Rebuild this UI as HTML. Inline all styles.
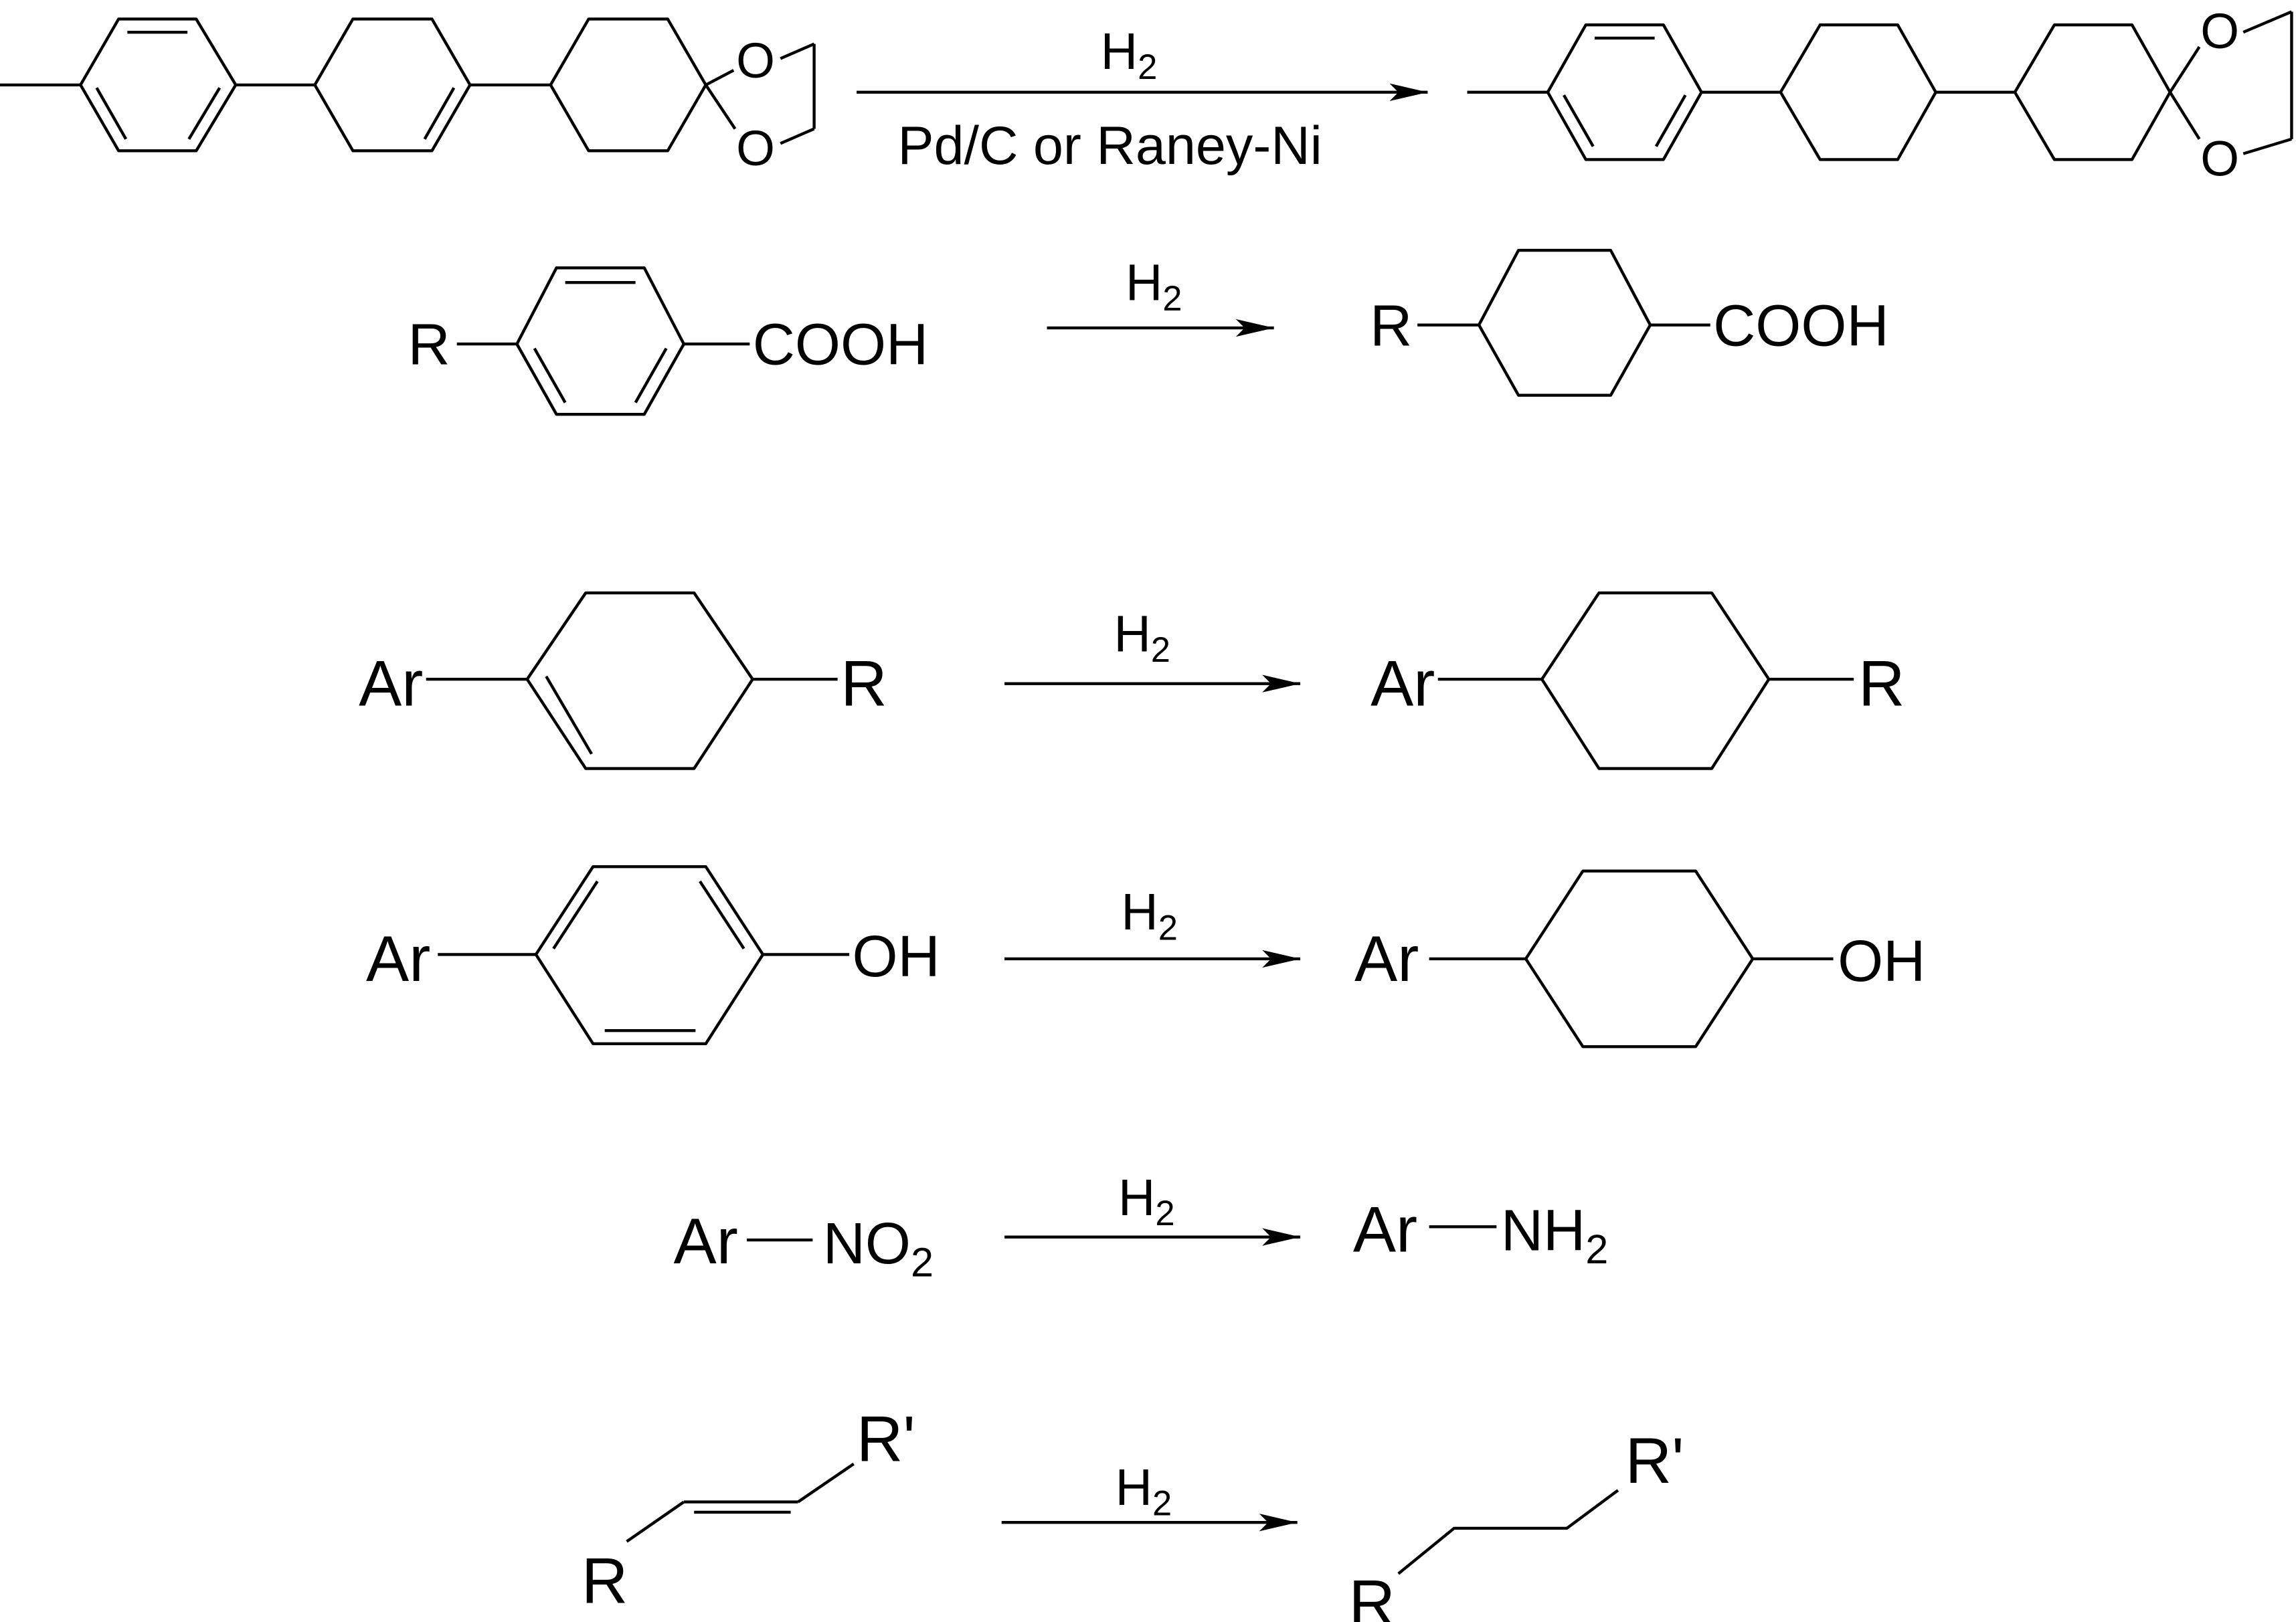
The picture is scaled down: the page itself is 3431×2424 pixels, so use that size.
<!DOCTYPE html>
<html><head><meta charset="utf-8"><style>
html,body{margin:0;padding:0;background:#fff;}
svg{display:block;}
text{font-family:"Liberation Sans",Arial,sans-serif;fill:#000;}
</style></head><body>
<svg width="3431" height="2424" viewBox="0 0 1568 1108" preserveAspectRatio="none" xmlns="http://www.w3.org/2000/svg">
<defs><marker id="ah" viewBox="0 0 26 12" refX="26" refY="6" markerWidth="26" markerHeight="12" markerUnits="userSpaceOnUse" orient="auto"><path d="M0,0 L26,6 L0,12 L6,6 Z" fill="#000"/></marker></defs>
<g stroke="#000" stroke-width="2" fill="none" stroke-linejoin="round">
<!-- Row 1 left -->
<line x1="0" y1="58" x2="55" y2="58"/>
<polygon points="55,58 81,13 134,13 161,58 134,103 81,103"/>
<line x1="87" y1="22" x2="128" y2="22"/><line x1="150" y1="60" x2="129" y2="95"/><line x1="66" y1="60" x2="86" y2="95"/>
<line x1="161" y1="58" x2="215" y2="58"/>
<polygon points="215,58 241,13 295,13 321,58 295,103 241,103"/>
<line x1="310" y1="60" x2="290" y2="95"/>
<line x1="321" y1="58" x2="376" y2="58"/>
<polygon points="376,58 402,13 456,13 482,58 456,103 402,103"/>
<line x1="482" y1="58" x2="501" y2="48"/><line x1="482" y1="58" x2="502" y2="88"/>
<line x1="533" y1="40" x2="556" y2="30"/><line x1="556" y1="30" x2="556" y2="88"/><line x1="556" y1="88" x2="533" y2="98"/>
<line x1="585" y1="63" x2="975" y2="63" marker-end="url(#ah)"/>
<!-- Row 1 right -->
<line x1="1002" y1="63" x2="1057" y2="63"/>
<polygon points="1057,63 1083,17 1136,17 1162,63 1136,109 1083,109"/>
<line x1="1089" y1="26" x2="1130" y2="26"/><line x1="1151" y1="65" x2="1131" y2="100"/><line x1="1068" y1="65" x2="1088" y2="100"/>
<line x1="1162" y1="63" x2="1216" y2="63"/>
<polygon points="1216,63 1243,17 1296,17 1322,63 1296,109 1243,109"/>
<line x1="1322" y1="63" x2="1376" y2="63"/>
<polygon points="1376,63 1403,17 1456,17 1482,63 1456,109 1403,109"/>
<line x1="1482" y1="63" x2="1502" y2="32"/><line x1="1482" y1="63" x2="1502" y2="95"/>
<line x1="1532" y1="22" x2="1565" y2="8"/><line x1="1565" y1="8" x2="1565" y2="95"/><line x1="1565" y1="95" x2="1532" y2="105"/>
<!-- Row 2 -->
<line x1="312" y1="235" x2="353" y2="235"/>
<polygon points="353,235 380,183 440,183 467,235 440,283 380,283"/>
<line x1="386" y1="193" x2="434" y2="193"/><line x1="455" y1="238" x2="434" y2="275"/><line x1="365" y1="238" x2="386" y2="275"/>
<line x1="467" y1="235" x2="512" y2="235"/>
<line x1="715" y1="224" x2="870" y2="224" marker-end="url(#ah)"/>
<line x1="968" y1="222" x2="1010" y2="222"/>
<polygon points="1010,222 1037,171 1100,171 1127,222 1100,270 1037,270"/>
<line x1="1127" y1="222" x2="1168" y2="222"/>
<!-- Row 3 -->
<line x1="291" y1="464" x2="360" y2="464"/>
<polygon points="360,464 400,405 474,405 514,464 474,525 400,525"/>
<line x1="373" y1="462" x2="404" y2="515"/>
<line x1="514" y1="464" x2="572" y2="464"/>
<line x1="686" y1="467" x2="888" y2="467" marker-end="url(#ah)"/>
<line x1="982" y1="464" x2="1053" y2="464"/>
<polygon points="1053,464 1092,405 1169,405 1208,464 1169,525 1092,525"/>
<line x1="1208" y1="464" x2="1266" y2="464"/>
<!-- Row 4 -->
<line x1="299" y1="652" x2="366" y2="652"/>
<polygon points="366,652 405,592 482,592 521,652 482,713 405,713"/>
<line x1="378" y1="648" x2="408" y2="602"/><line x1="478" y1="602" x2="508" y2="648"/><line x1="413" y1="704" x2="475" y2="704"/>
<line x1="521" y1="652" x2="580" y2="652"/>
<line x1="686" y1="655" x2="888" y2="655" marker-end="url(#ah)"/>
<line x1="976" y1="655" x2="1042" y2="655"/>
<polygon points="1042,655 1081,595 1158,595 1197,655 1158,715 1081,715"/>
<line x1="1197" y1="655" x2="1252" y2="655"/>
<!-- Row 5 -->
<line x1="510" y1="847" x2="555" y2="847"/>
<line x1="686" y1="845" x2="888" y2="845" marker-end="url(#ah)"/>
<line x1="976" y1="838" x2="1022" y2="838"/>
<!-- Row 6 -->
<line x1="583" y1="1000" x2="545" y2="1026"/>
<line x1="467" y1="1026" x2="545" y2="1026"/><line x1="474" y1="1033" x2="540" y2="1033"/>
<line x1="467" y1="1026" x2="428" y2="1053"/>
<line x1="684" y1="1040" x2="886" y2="1040" marker-end="url(#ah)"/>
<polyline points="955,1075 993,1044 1070,1044 1105,1018"/>
</g>
<g font-size="34" text-anchor="middle">
<text x="516" y="53">O</text><text x="516" y="113">O</text>
<text x="1516" y="33">O</text><text x="1516" y="120">O</text>
</g>
<g font-size="35" text-anchor="middle">
<text x="771" y="47">H<tspan font-size="24" dy="7">2</tspan></text>
<text x="758" y="112" font-size="37">Pd/C or Raney-Ni</text>
<text x="788" y="205">H<tspan font-size="24" dy="7">2</tspan></text>
<text x="780" y="445">H<tspan font-size="24" dy="7">2</tspan></text>
<text x="785" y="635">H<tspan font-size="24" dy="7">2</tspan></text>
<text x="783" y="830">H<tspan font-size="24" dy="7">2</tspan></text>
<text x="781" y="1028">H<tspan font-size="24" dy="7">2</tspan></text>
</g>
<g font-size="44" text-anchor="middle">
<text x="293" y="249" font-size="40">R</text>
<text x="950" y="236" font-size="40">R</text>
<text x="267" y="482">Ar</text><text x="590" y="482">R</text>
<text x="958" y="482">Ar</text><text x="1285" y="482">R</text>
<text x="272" y="670">Ar</text><text x="947" y="670">Ar</text>
<text x="482" y="863">Ar</text><text x="946" y="855">Ar</text>
<text x="605" y="998">R'</text><text x="413" y="1095">R</text>
<text x="937" y="1110">R</text><text x="1130" y="1013">R'</text>
</g>
<g font-size="40" text-anchor="start">
<text x="514" y="249">COOH</text>
<text x="1170" y="236">COOH</text>
<text x="582" y="667">OH</text>
<text x="1255" y="670">OH</text>
<text x="562" y="863">NO<tspan font-size="28" dy="9">2</tspan></text>
<text x="1025" y="854">NH<tspan font-size="28" dy="9">2</tspan></text>
</g>
</svg>
</body></html>
